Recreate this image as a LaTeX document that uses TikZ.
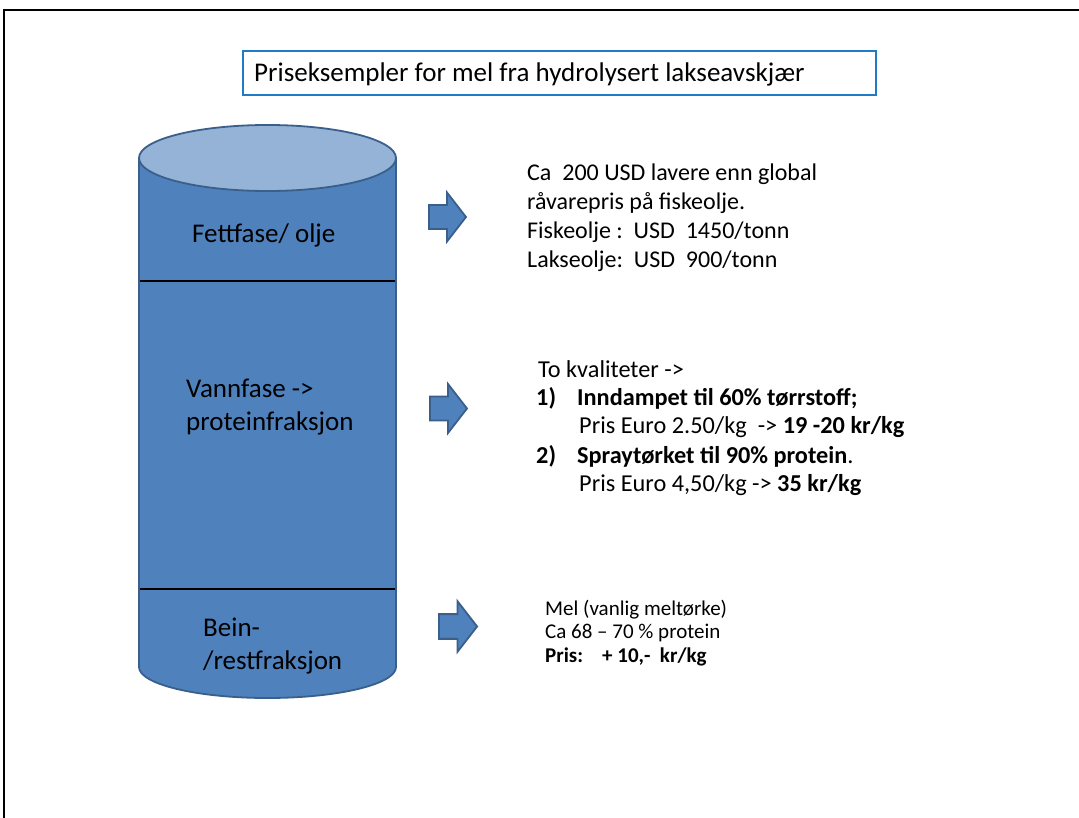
\documentclass[tikz,border=0pt]{standalone}
\usepackage{fontspec}
\setmainfont{Carlito}
\definecolor{sidefill}{HTML}{4F81BD}
\definecolor{topfill}{HTML}{95B3D7}
\definecolor{edge}{HTML}{3A5F8B}
\definecolor{titleblue}{HTML}{1F7BC8}
\tikzset{
  titletext/.style={font=\fontsize{27}{32}\selectfont, anchor=base west, inner sep=0pt},
  big/.style={font=\fontsize{27}{32}\selectfont, anchor=base west, inner sep=0pt},
  mid/.style={font=\fontsize{24}{28}\selectfont, anchor=base west, inner sep=0pt},
  midb/.style={font=\fontsize{24.3}{28}\selectfont, anchor=base west, inner sep=0pt},
  small/.style={font=\fontsize{21}{24}\selectfont, anchor=base west, inner sep=0pt},
  divider/.style={line width=2.5pt, black},
  blockarrow/.pic={
    \draw[fill=sidefill, draw=edge, line width=1.8pt, line join=miter]
      (0,-12) -- (18,-12) -- (18,-24.5) -- (37,0) -- (18,24.5) -- (18,12) -- (0,12) -- cycle;
  }
}
\begin{document}
\begin{tikzpicture}[x=1pt,y=-1pt]
\useasboundingbox (0,0) rectangle (1079,818);
% frame
\draw[line width=2pt] (4,818) -- (4,10) -- (1079,10);
% title
\node[draw=titleblue, line width=2pt, minimum width=633pt, minimum height=44pt,
      anchor=north west, inner sep=0pt] (titlebox) at (242,50) {};
\node[titletext] (title) at (254,82) {Priseksempler for mel fra hydrolysert lakseavskjær};
% cylinder body
\draw[fill=sidefill, draw=edge, line width=1.8pt]
  (139,158) -- (139,667) arc[start angle=180, end angle=0, x radius=128.5, y radius=31]
  -- (396,158) -- cycle;
\draw[fill=topfill, draw=edge, line width=1.8pt] (267.5,158) ellipse[x radius=128.5, y radius=33];
\draw[divider] (140,281) -- (395,281);
\draw[divider] (140,589) -- (395,589);
% cylinder labels
\node[big] (fett) at (192,243) {Fettfase/ olje};
\node[big] (vann1) at (186,397) {Vannfase ->};
\node[big] (vann2) at (186,430) {proteinfraksjon};
\node[big] (bein1) at (203,636) {Bein-};
\node[big] (bein2) at (203,669) {/restfraksjon};
% arrows
\pic at (429,217) {blockarrow};
\pic at (430,408.5) {blockarrow};
\pic[scale=1.03] at (439,626.5) {blockarrow};
% block 1
\node[mid] (a1) at (527,181) {Ca\ \ 200 USD lavere enn global};
\node[mid] (a2) at (527,210) {råvarepris på fiskeolje.};
\node[mid] (a3) at (527,239) {Fiskeolje :\ \ USD\ \ 1450/tonn};
\node[mid] (a4) at (527,268) {Lakseolje:\ \ USD\ \ 900/tonn};
% block 2
\node[midb] (b1) at (538,377) {To kvaliteter ->};
\node[midb] (b2n) at (536,405) {\bfseries 1)};
\node[midb] (b2) at (577,405) {\bfseries Inndampet til 60\% tørrstoff;};
\node[midb] (b3) at (579,433) {Pris Euro 2.50/kg\ \ -> \textbf{19 -20 kr/kg}};
\node[midb] (b4n) at (536,463) {\bfseries 2)};
\node[midb] (b4) at (577,463) {\textbf{Spraytørket til 90\% protein}.};
\node[midb] (b5) at (579,491) {Pris Euro 4,50/kg -> \textbf{35 kr/kg}};
% block 3
\node[small] (c1) at (545,615) {Mel (vanlig meltørke)};
\node[small] (c2) at (545,638) {Ca 68 – 70 \% protein};
\node[small] (c3) at (545,662) {\bfseries Pris:\ \ \ \ + 10,-\ \ kr/kg};
\end{tikzpicture}
\end{document}
